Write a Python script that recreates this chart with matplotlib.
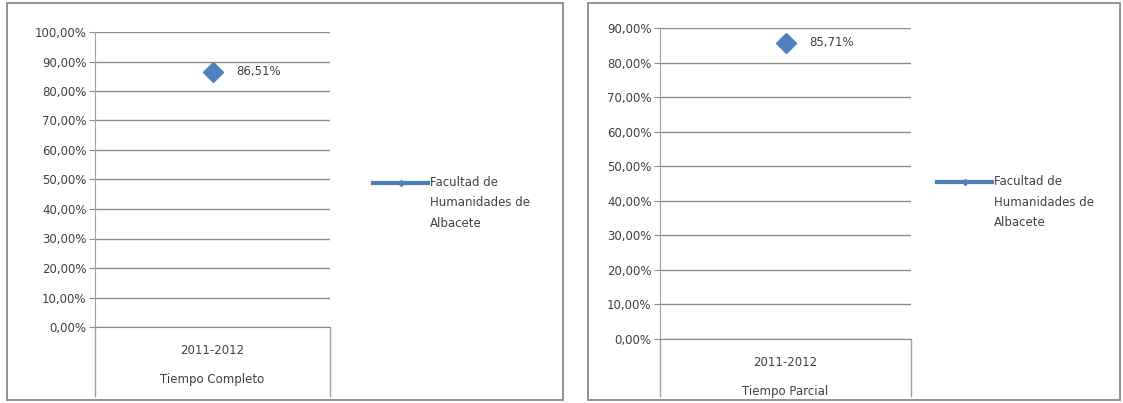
import matplotlib
matplotlib.use('Agg')
import matplotlib.pyplot as plt
from matplotlib.lines import Line2D
from matplotlib.patches import Rectangle
from matplotlib.ticker import FuncFormatter, MultipleLocator

# data
years = ["2011-2012"]
modes = ["Tiempo Completo", "Tiempo Parcial"]
values = [0.8651, 0.8571]
y_max = [1.0, 0.9]
series_name = "Facultad de\nHumanidades de\nAlbacete"

W, H = 1123, 403
LINE_COLOR = "#4a7ebb"
MARK_COLOR = "#4f81bd"
GRID_COLOR = "#8c8c8c"
TEXT_COLOR = "#404040"
FS = 8.5

plt.rcParams['font.family'] = ['DejaVu Sans']


def fx(px):
    return px / W


def fy(py):
    return 1 - py / H


def pct(v, _pos=None):
    return f"{v * 100:.2f}%".replace(".", ",")


fig = plt.figure(figsize=(W / 100, H / 100), dpi=100)
fig.patch.set_facecolor("white")

# panel frames (px): left, top, right, bottom
frames = [(7, 3, 563, 400), (588, 3, 1120, 400)]
# plot areas (px): left, top, right, bottom
plots = [(95, 32, 330, 327), (660, 28, 911, 339)]
legends = [(373, 183), (937, 182)]

for i in range(2):
    l, t, r, b = frames[i]
    fig.add_artist(Rectangle((fx(l), fy(b)), fx(r) - fx(l), fy(t) - fy(b),
                             transform=fig.transFigure, fill=False,
                             edgecolor="#8a8a8a", linewidth=1.3))

    l, t, r, b = plots[i]
    ax = fig.add_axes([fx(l), fy(b), fx(r) - fx(l), fy(t) - fy(b)])
    ax.set_xlim(0.5, 1.5)
    ax.set_ylim(0, y_max[i])
    ax.yaxis.set_major_locator(MultipleLocator(0.1))
    ax.yaxis.set_major_formatter(FuncFormatter(pct))
    ax.grid(axis="y", color=GRID_COLOR, linewidth=1.0)
    ax.set_axisbelow(True)
    for side in ("top", "right"):
        ax.spines[side].set_visible(False)
    ax.spines["left"].set_color("#a0a0a0")
    ax.spines["bottom"].set_color(GRID_COLOR)
    ax.tick_params(axis="y", length=4, color=GRID_COLOR, labelsize=FS,
                   labelcolor=TEXT_COLOR, pad=2)

    # category ticks: boundaries drawn as long minor ticks
    ax.set_xticks([1])
    ax.set_xticklabels([years[0] + "\n" + modes[i]], fontsize=FS,
                       color=TEXT_COLOR, linespacing=2.65)
    ax.set_xticks([0.5, 1.5], minor=True)
    ax.tick_params(axis="x", which="major", length=0, pad=12)
    ax.tick_params(axis="x", which="minor", length=(H - b - 6) * 0.72,
                   color="#a0a0a0", width=1.0)

    ax.plot([1], [values[i]], linestyle="-", color=LINE_COLOR, linewidth=2.5,
            marker="D", markersize=10, markerfacecolor=MARK_COLOR,
            markeredgecolor=MARK_COLOR)
    ax.annotate(pct(values[i]), (1, values[i]), xytext=(17, 0),
                textcoords="offset points", va="center", ha="left",
                fontsize=FS, color=TEXT_COLOR)

    # legend key
    lx, ly = legends[i]
    fig.add_artist(Line2D([fx(lx), fx(lx + 55)], [fy(ly), fy(ly)],
                          transform=fig.transFigure, color=LINE_COLOR,
                          linewidth=3))
    fig.add_artist(Line2D([fx(lx + 27.5)], [fy(ly)], transform=fig.transFigure,
                          marker="D", markersize=3, color=MARK_COLOR))
    fig.text(fx(lx + 57), fy(ly - 7), series_name, ha="left", va="top",
             fontsize=FS, color=TEXT_COLOR, linespacing=1.75)

fig.savefig("out.png", dpi=100)
